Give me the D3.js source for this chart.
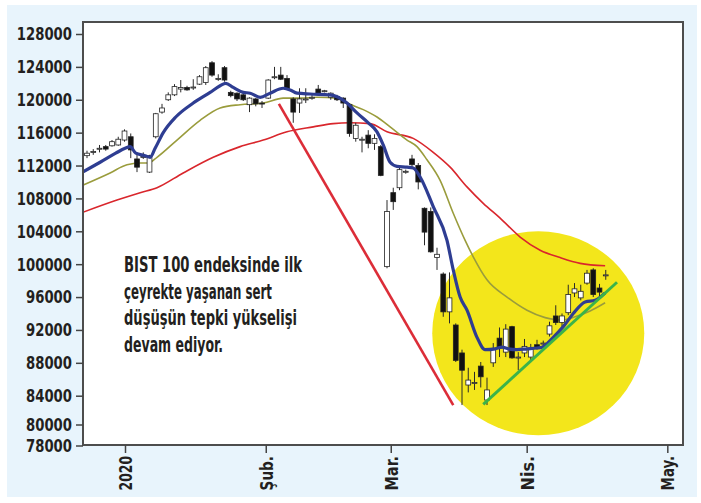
<!DOCTYPE html>
<html><head><meta charset="utf-8">
<script src="https://cdn.jsdelivr.net/npm/d3@7"></script>
<style>html,body{margin:0;padding:0;background:#fff;} svg{display:block;}</style>
</head><body>
<svg id="c" width="701" height="503"></svg>
<script>
// ---- data (trading-day index on x) ----
const openV  = [113200,113600,114000,114300,114400,114500,115100,115500,112800,113000,111200,115500,118500,120000,120600,121300,121500,121500,121900,122100,124500,122500,123900,120900,120800,120600,119400,120100,119600,120200,122700,123000,122600,120100,119600,120000,120200,121300,121000,120300,120400,120200,119400,115300,115100,115700,114700,114300,99700,108700,109300,111200,112800,112000,106800,106400,100800,98800,94200,92600,89200,85300,85500,87600,83400,88000,91000,89300,92400,88600,89200,88700,90200,90300,91500,93700,92900,94100,96500,95900,97700,99300,97100,98600];
const highV  = [113800,114000,114500,114500,115100,115500,116400,115900,113300,113600,113300,118400,119500,120900,121900,122400,121700,122500,123000,124100,124700,123100,124100,121100,120900,120800,120300,120200,119850,122500,124000,124000,123000,120300,121400,121400,120800,121800,121200,120900,120600,120300,119600,117200,115500,116300,115800,114500,107800,109300,111900,111500,113300,112300,106900,106900,102000,99000,99000,92800,89600,87400,86900,88100,86200,90400,92300,92700,92500,89300,90900,90300,90800,90700,93000,95000,94000,97500,97700,97500,99300,99500,97600,99300];
const lowV   = [112900,113300,113600,113800,114300,114400,114900,112900,111200,112800,111100,115300,118300,119850,120450,120900,121100,121200,121800,121800,122800,122300,122200,120300,119850,119850,118500,119200,119000,120100,122500,122400,121200,117200,118400,119600,120000,120700,120900,120000,119850,119000,115500,114900,113600,114100,113900,110700,99500,106600,109000,111000,111800,109100,102300,101400,99300,93600,92800,88100,82700,84400,84700,85000,82700,87500,88700,88700,88500,87100,88700,88300,89600,90000,91200,92600,92400,93800,96000,95600,97500,96000,96100,98100];
const closeV = [113500,113700,114100,114000,114900,115200,116200,113900,111800,113100,113200,118300,119000,120600,121600,121500,121200,121550,122800,123900,123000,122600,122400,120500,120100,120000,120200,119500,119500,122400,122800,122500,121300,118500,120100,120100,120300,120800,121100,120800,120000,119600,115900,116900,115200,114700,115300,110800,106400,107600,111500,111300,112100,110000,103900,101500,101200,94200,95900,88300,87100,85900,85600,86300,84700,89600,89800,92100,88600,88700,90000,89800,89800,90400,92500,92900,93700,96300,97000,96700,98900,96300,96600,98700];

// moving averages: [day index, value]
const maFast = [[-0.7,111200],[2.1,112400],[4.6,113500],[6.1,114100],[6.9,114300],[7.8,113500],[9.3,113200],[10.1,113000],[10.9,114100],[12.2,116000],[14.2,117900],[17.0,119600],[19.7,120900],[21.3,121700],[22.2,122000],[23.4,121500],[25.0,120900],[26.1,120800],[27.7,120300],[29.3,120800],[31.4,121400],[32.5,121200],[33.6,120800],[35.7,120700],[38.9,120600],[40.2,120300],[41.6,119600],[43.2,118400],[45.0,117200],[46.4,116100],[47.4,114500],[48.5,112400],[49.6,111900],[51.2,111800],[52.2,111700],[53.3,110600],[55.4,107000],[57.6,102900],[58.6,99300],[59.7,96000],[60.8,94400],[62.4,91100],[63.7,89600],[65.3,89700],[66.4,89900],[67.4,89700],[68.8,89600],[70.4,89700],[72.0,89800],[72.8,89900],[74.6,91100],[76.2,92400],[77.8,94000],[79.7,95400],[81.3,95600],[82.9,96500]];
const maMid  = [[-0.7,109600],[3.7,111100],[6.4,112100],[8.5,112300],[9.8,112300],[11.2,113000],[14.4,115100],[18.1,117500],[21.3,119000],[24.5,119400],[28.2,119600],[31.4,120200],[34.1,120200],[36.8,120300],[40.0,120200],[41.6,119600],[44.2,118800],[46.4,117900],[48.5,116700],[51.2,115100],[52.8,114300],[54.4,112700],[56.5,110200],[58.6,106200],[60.5,102900],[61.8,100900],[64.0,98100],[67.2,96000],[70.4,94400],[73.3,93500],[75.7,93200],[78.1,93600],[80.5,94300],[82.9,95300]];
const maSlow = [[-0.7,106300],[4.8,107800],[8.5,108700],[11.2,109300],[15.4,111100],[20.2,113000],[24.5,114300],[28.2,115100],[32.0,116100],[36.2,116700],[39.4,117100],[42.1,117200],[45.3,117100],[48.0,116100],[52.2,115300],[55.4,113600],[58.1,111800],[60.8,109400],[63.4,107400],[66.1,105600],[69.3,103300],[72.5,101700],[75.7,100800],[78.9,100100],[82.9,99800]];

const fallLine  = [[30.7,119500],[58.6,82700]];
const trendLine = [[63.4,82800],[84.8,97800]];
const focusCenter = [72.2, 91600];

const yTickValues = [128000,124000,120000,116000,112000,108000,104000,100000,96000,92000,88000,84000,80000,78000];
const xTickLabels = ["2020","Şub.","Mar.","Nis.","May."];
const xTickPos    = [6.08,28.6,48.6,70.35,92.85];
const annotation  = ["BIST 100 endeksinde ilk","çeyrekte yaşanan sert","düşüşün tepki yükselişi","devam ediyor."];

// ---- drawing ----
const svg = d3.select("#c");
const FONT = "'Liberation Sans Narrow','DejaVu Sans Condensed','Roboto Condensed','Liberation Sans',Arial,sans-serif";
svg.append("rect").attr("width",701).attr("height",503).attr("fill","#fff");
svg.append("rect").attr("x",7).attr("y",5).attr("width",690).attr("height",492).attr("fill","#e8f4fc");

const L=83,T=22,R=683,B=445;
const x = d3.scaleLinear().domain([0,83]).range([87,605.75]);
const y = d3.scaleLinear().domain([78000,80000,84000,128000]).range([445.5,424.5,395.7,34]);

svg.append("rect").attr("x",L).attr("y",T).attr("width",R-L).attr("height",B-T).attr("fill","#fff");
svg.append("defs").append("clipPath").attr("id","clip").append("rect").attr("x",L).attr("y",T).attr("width",R-L).attr("height",B-T);
const g = svg.append("g").attr("clip-path","url(#clip)");

g.append("ellipse").attr("cx",x(focusCenter[0])).attr("cy",y(focusCenter[1])).attr("rx",106).attr("ry",102).attr("fill","#f3e61b");

const line = d3.line().x(d=>x(d[0])).y(d=>y(d[1])).curve(d3.curveMonotoneX);
const straight = d3.line().x(d=>x(d[0])).y(d=>y(d[1]));

g.append("path").attr("d",line(maSlow)).attr("fill","none").attr("stroke","#d9262c").attr("stroke-width",1.6);
g.append("path").attr("d",line(maMid)).attr("fill","none").attr("stroke","#9a9c3c").attr("stroke-width",1.6);
g.append("path").attr("d",straight(fallLine)).attr("fill","none").attr("stroke","#dc2d38").attr("stroke-width",2.6);

const candles = d3.range(openV.length).map(i=>({i,o:openV[i],h:highV[i],l:lowV[i],c:closeV[i]}));
const cg = g.append("g");
cg.selectAll("line.w").data(candles).join("line").attr("class","w")
  .attr("x1",d=>x(d.i)).attr("x2",d=>x(d.i)).attr("y1",d=>y(d.h)).attr("y2",d=>y(d.l))
  .attr("stroke","#2a2a2a").attr("stroke-width",1);
cg.selectAll("rect.b").data(candles).join("rect").attr("class","b")
  .attr("x",d=>x(d.i)-2.4).attr("width",4.8)
  .attr("y",d=>Math.min(y(d.o),y(d.c)))
  .attr("height",d=>Math.max(1,Math.abs(y(d.o)-y(d.c))))
  .attr("fill",d=>d.c>=d.o?"#fff":"#111").attr("stroke","#222").attr("stroke-width",0.8);

g.append("path").attr("d",line(maFast)).attr("fill","none").attr("stroke","#2e3d92").attr("stroke-width",3.2);
g.append("path").attr("d",straight(trendLine)).attr("fill","none").attr("stroke","#3bb34a").attr("stroke-width",3);

svg.append("rect").attr("x",L).attr("y",T).attr("width",R-L).attr("height",B-T).attr("fill","none").attr("stroke","#4d4d4d").attr("stroke-width",2);

// y axis
const ya = svg.append("g").attr("transform",`translate(${L},0)`)
  .call(d3.axisLeft(y).tickValues(yTickValues).tickFormat(d3.format("d")).tickSize(7).tickPadding(4));
ya.select(".domain").remove();
ya.selectAll("line").attr("stroke","#444").attr("stroke-width",1.5);
ya.selectAll("text").attr("font-family",FONT).attr("font-weight","bold").attr("font-size",18.5).attr("fill","#231f20")
  .each(function(){const n=this.getComputedTextLength();const t=this.textContent.length*9.2; if(n>t){d3.select(this).attr("textLength",t).attr("lengthAdjust","spacingAndGlyphs");}});

// x axis
const xa = svg.append("g").attr("transform",`translate(0,${B})`)
  .call(d3.axisBottom(x).tickValues(xTickPos).tickFormat((d,i)=>xTickLabels[i]).tickSize(8));
xa.select(".domain").remove();
xa.selectAll("line").attr("stroke","#444").attr("stroke-width",1.5);
xa.selectAll("text").attr("font-family",FONT).attr("font-weight","bold").attr("font-size",18.5).attr("fill","#231f20")
  .attr("transform","rotate(-90)").attr("text-anchor","end").attr("x",-11).attr("y",0).attr("dy","0.36em")
  .each(function(){const n=this.getComputedTextLength();const t=this.textContent.length*8.6; if(n>t){d3.select(this).attr("textLength",t).attr("lengthAdjust","spacingAndGlyphs");}});

// annotation (line widths fitted to the reference layout)
const lineWidths = [178,148,173,99];
svg.append("g").selectAll("text").data(annotation).join("text")
  .attr("x",124).attr("y",(d,i)=>272+i*26.7)
  .attr("font-family",FONT).attr("font-weight","bold").attr("font-size",21).attr("fill","#231f20").text(d=>d)
  .each(function(d,i){const n=this.getComputedTextLength(); if(n>lineWidths[i]){d3.select(this).attr("textLength",lineWidths[i]).attr("lengthAdjust","spacingAndGlyphs");}});
</script>
</body></html>
